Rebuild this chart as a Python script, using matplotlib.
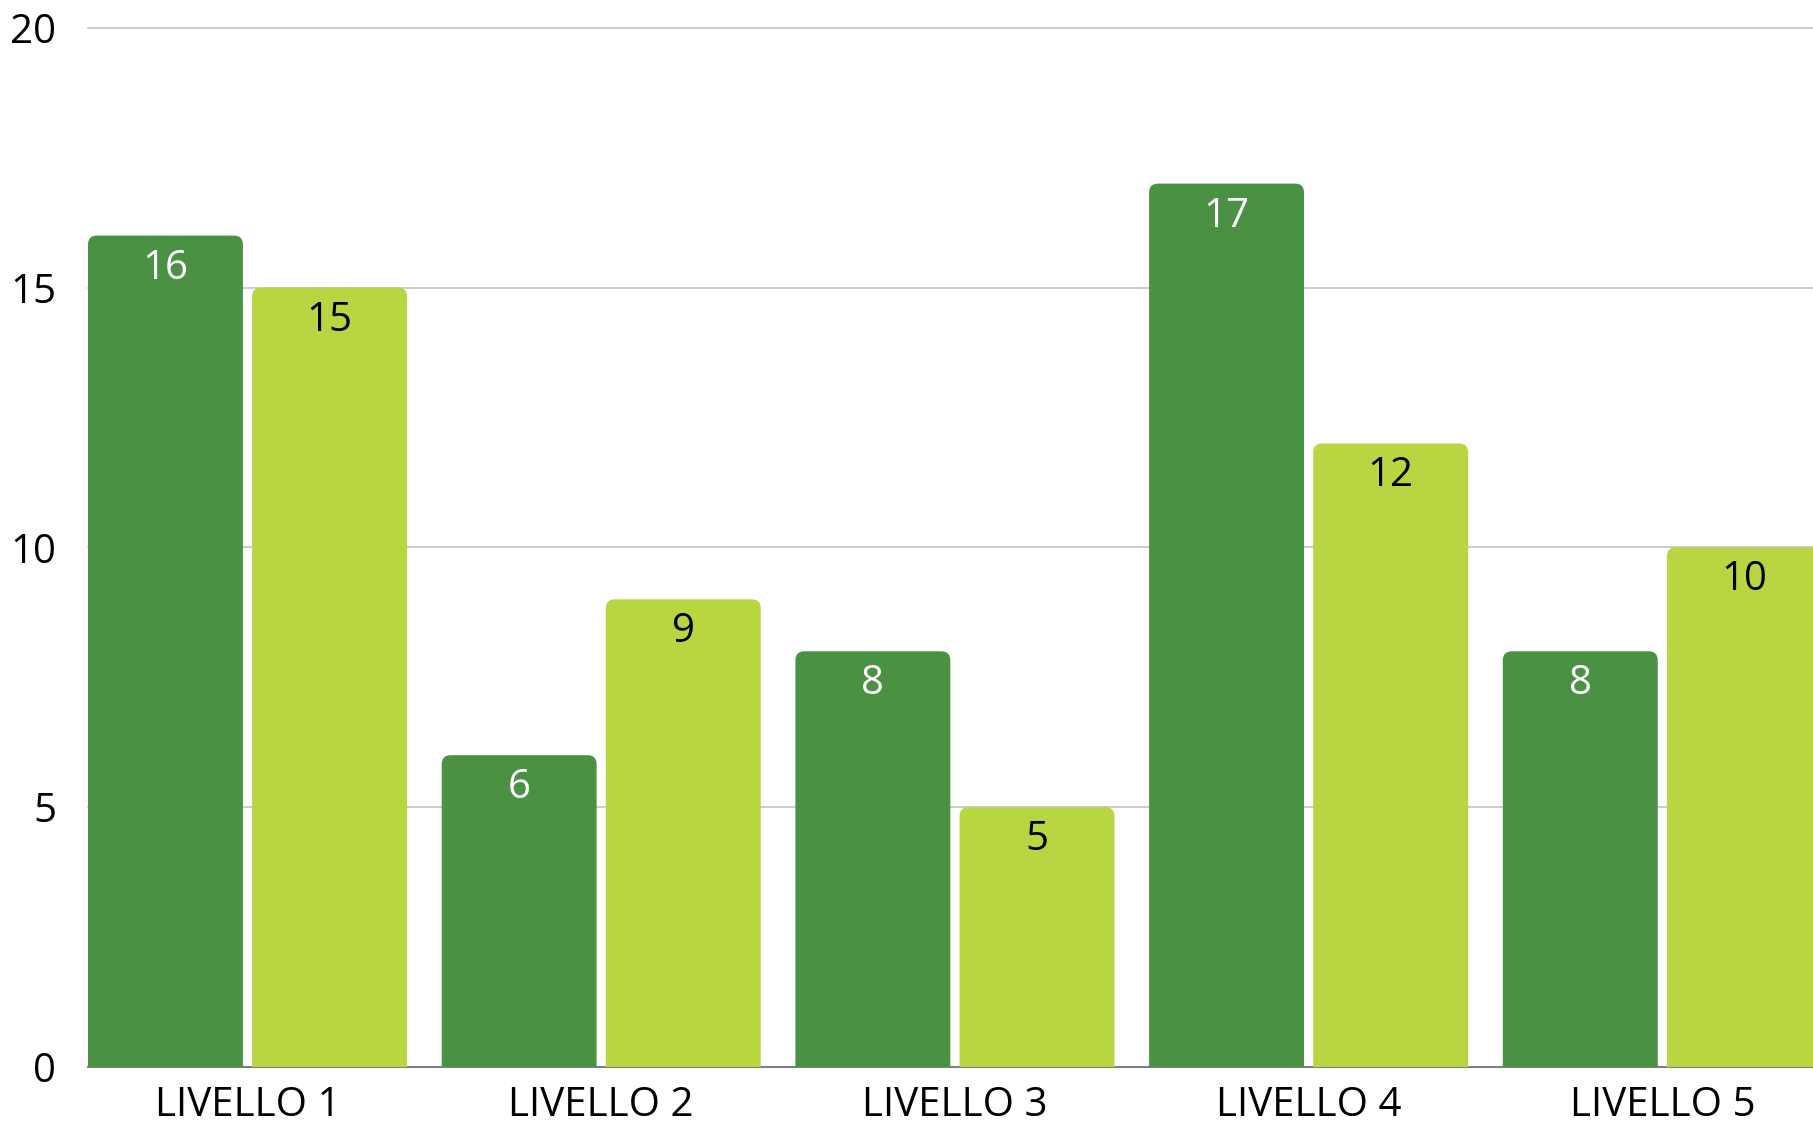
import matplotlib
matplotlib.use("Agg")
import matplotlib.pyplot as plt
from matplotlib.path import Path
from matplotlib.patches import PathPatch
import numpy as np

categories = ["LIVELLO 1", "LIVELLO 2", "LIVELLO 3", "LIVELLO 4", "LIVELLO 5"]
series_dark = [16, 6, 8, 17, 8]
series_light = [15, 9, 5, 12, 10]
y_ticks = [0, 5, 10, 15, 20]

DARK = "#4A9143"
LIGHT = "#B7D642"
FONT = ["Open Sans", "DejaVu Sans"]
plt.rcParams["font.family"] = FONT

W, H, DPI = 1813, 1126, 100
fig = plt.figure(figsize=(W / DPI, H / DPI), dpi=DPI)
left_px, top_px, bottom_px = 88, 27.7, 1067
ax = fig.add_axes([left_px / W, 1 - bottom_px / H, 1 - left_px / W, (bottom_px - top_px) / H])

x = np.arange(len(categories))
bw = 0.438
gap = 0.013
bars_d = ax.bar(x - gap - bw / 2, series_dark, width=bw, color=DARK, zorder=3)
bars_l = ax.bar(x + gap + bw / 2, series_light, width=bw, color=LIGHT, zorder=3)

xlim = (-0.451, 4.426)
ylim = (0, 20)
ax.set_xlim(*xlim)
ax.set_ylim(*ylim)

# rounded top corners
px_per_x = (W - left_px) / (xlim[1] - xlim[0])
px_per_y = (bottom_px - top_px) / (ylim[1] - ylim[0])
r_px = 9
rx, ry = r_px / px_per_x, r_px / px_per_y


def rounded(rect, color):
    x0, y0 = rect.get_x(), rect.get_y()
    w, h = rect.get_width(), rect.get_height()
    x1, y1 = x0 + w, y0 + h
    verts = [(x0, y0), (x0, y1 - ry), (x0, y1), (x0 + rx, y1),
             (x1 - rx, y1), (x1, y1), (x1, y1 - ry), (x1, y0), (x0, y0)]
    codes = [Path.MOVETO, Path.LINETO, Path.CURVE3, Path.CURVE3,
             Path.LINETO, Path.CURVE3, Path.CURVE3, Path.LINETO, Path.CLOSEPOLY]
    patch = PathPatch(Path(verts, codes), facecolor=color, edgecolor="none", zorder=3)
    ax.add_patch(patch)
    rect.set_visible(False)


for rect in bars_d:
    rounded(rect, DARK)
for rect in bars_l:
    rounded(rect, LIGHT)

# value labels
fs = 29
for rect, v in zip(bars_d, series_dark):
    ax.annotate(str(v), (rect.get_x() + rect.get_width() / 2, v), xytext=(0, -31),
                textcoords="offset points", ha="center", va="baseline",
                color="white", fontsize=fs, zorder=4)
for rect, v in zip(bars_l, series_light):
    ax.annotate(str(v), (rect.get_x() + rect.get_width() / 2, v), xytext=(0, -31),
                textcoords="offset points", ha="center", va="baseline",
                color="black", fontsize=fs, zorder=4)

# gridlines
for t in y_ticks[1:]:
    ax.axhline(t, color="#C8C8C8", lw=1.3, zorder=1, clip_on=False)

for s in ["left", "right", "top"]:
    ax.spines[s].set_visible(False)
ax.spines["bottom"].set_color("#808080")
ax.spines["bottom"].set_linewidth(1.5)
ax.spines["bottom"].set_zorder(2)

ax.set_yticks(y_ticks)
ax.set_yticklabels([str(t) for t in y_ticks])
ax.set_xticks(x)
ax.set_xticklabels(categories)
ax.tick_params(axis="y", length=0, pad=23, labelsize=fs, labelcolor="black")
ax.tick_params(axis="x", length=0, pad=13, labelsize=fs, labelcolor="black")

fig.savefig("out.png", dpi=DPI)
